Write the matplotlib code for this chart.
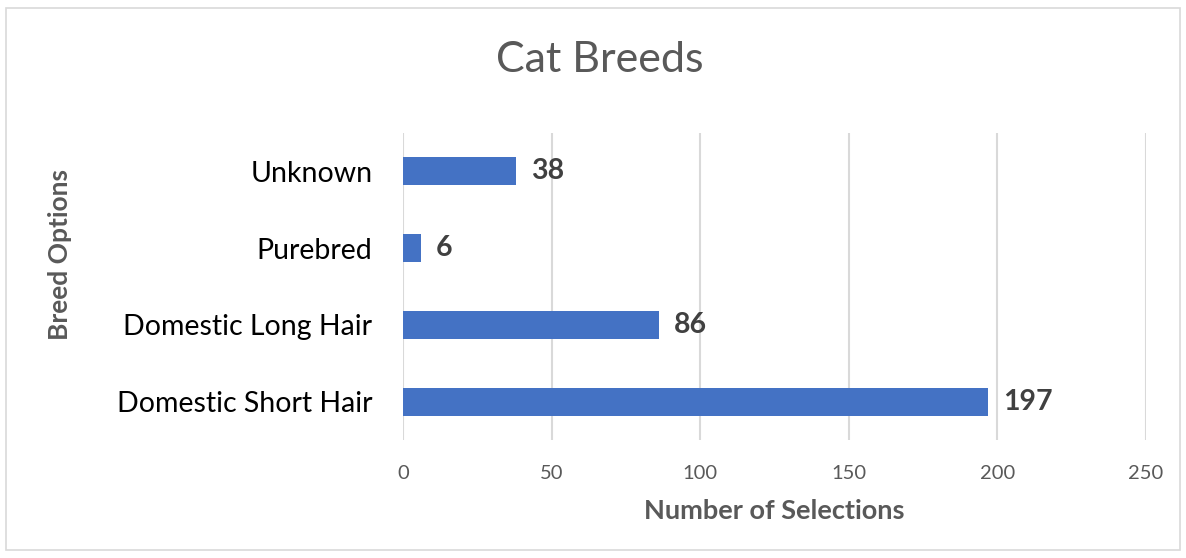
import matplotlib.pyplot as plt
from matplotlib.patches import Rectangle

breeds = ["Domestic Short Hair", "Domestic Long Hair", "Purebred", "Unknown"]
counts = [197, 86, 6, 38]
xticks = [0, 50, 100, 150, 200, 250]

plt.rcParams['font.family'] = ['Lato', 'DejaVu Sans']

fig = plt.figure(figsize=(11.86, 5.58), dpi=100)
ax = fig.add_axes([403/1186, 1 - 440/558, 743/1186, 307/558])

ypos = list(range(len(breeds)))
ax.barh(ypos, counts, height=0.365, color="#4472C4", zorder=3)
for y, v in zip(ypos, counts):
    ax.text(v + 5, y, str(v), va="center", ha="left", fontsize=20.5,
            fontweight="bold", color="#404040")

ax.set_xlim(0, 250)
ax.set_ylim(-0.5, 3.5)
ax.set_xticks(xticks)
ax.set_yticks(ypos)
ax.set_yticklabels(breeds, fontsize=20.5, color="black")
ax.tick_params(axis="x", labelsize=14.5, colors="#595959", length=0, pad=18)
ax.tick_params(axis="y", length=0, pad=22)
ax.grid(axis="x", color="#d9d9d9", linewidth=1.5, zorder=0)
for s in ax.spines.values():
    s.set_visible(False)

ax.set_xlabel("Number of Selections", fontsize=19.5, fontweight="bold",
              color="#595959", labelpad=12)
fig.text(60/1186, 1 - 254/558, "Breed Options", rotation=90, fontsize=19,
         fontweight="bold", color="#595959", ha="center", va="center")
fig.text(600/1186, 1 - 60/558, "Cat Breeds", fontsize=31, color="#595959",
         ha="center", va="center")

fig.patches.append(Rectangle((6/1186, 1 - 550/558), 1174/1186, 542/558,
                             transform=fig.transFigure, fill=False,
                             edgecolor="#d9d9d9", linewidth=1.2))

fig.savefig("out.png", dpi=100)
